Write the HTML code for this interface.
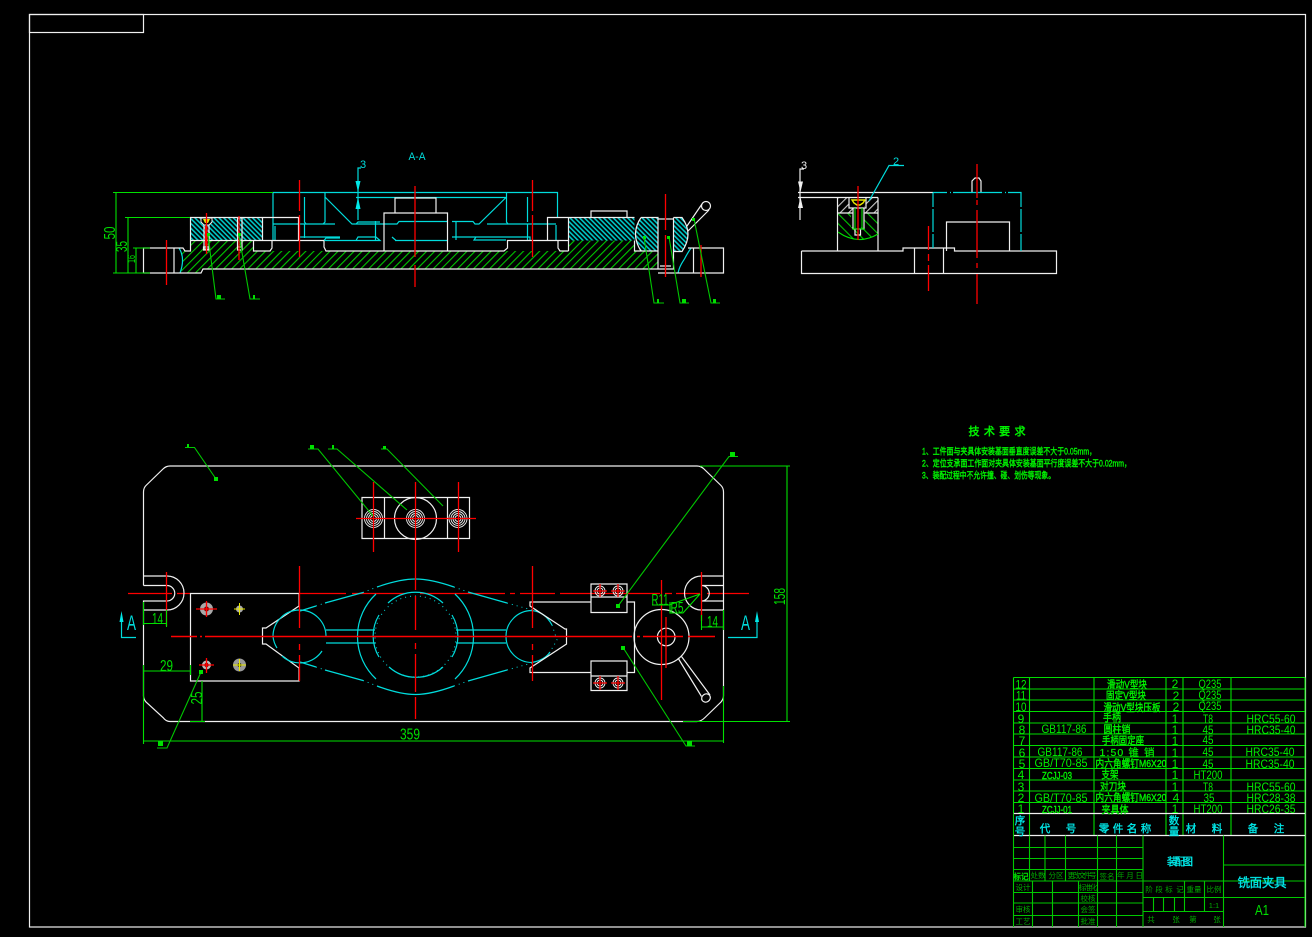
<!DOCTYPE html>
<html><head><meta charset="utf-8"><style>
html,body{margin:0;padding:0;background:#000;width:1312px;height:937px;overflow:hidden}
svg{display:block}
text{font-family:"Liberation Sans","Noto Sans CJK SC",sans-serif;text-anchor:middle}
.w{fill:none;stroke:#f0f0f0;stroke-width:1.2}
.c{fill:none;stroke:#00dcdc;stroke-width:1.2}
.g{fill:none;stroke:#00e000;stroke-width:1.1}
.l{fill:none;stroke:#00c800;stroke-width:1.1}
.r{fill:none;stroke:#f00;stroke-width:1.3}
.d{fill:none;stroke:#00dcdc;stroke-width:1;stroke-dasharray:1 4}
.t{fill:#00e000;font-size:16px}
.b{fill:#00f000;font-size:12px}
.n{fill:#00f000;stroke:#00f000;stroke-width:.4;font-size:10.5px}
.h{fill:#00e8e8;stroke:#00e8e8;stroke-width:.35;font-size:10.5px}
.s{fill:#00a800;font-size:7.5px}
</style></head><body>
<svg width="1312" height="937" viewBox="0 0 1312 937" xmlns="http://www.w3.org/2000/svg">
<defs>
<pattern id="hc" width="3.4" height="3.4" patternUnits="userSpaceOnUse" patternTransform="rotate(-45)"><rect width="3.4" height="3.4" fill="#000"/><rect width="1.6" height="3.4" fill="#00c8c8"/></pattern>
<pattern id="hg" width="5.7" height="6" patternUnits="userSpaceOnUse" patternTransform="rotate(45)"><rect width="1.1" height="6" fill="#00c800"/></pattern>
<pattern id="hg2" width="7" height="7" patternUnits="userSpaceOnUse" patternTransform="rotate(-45)"><rect width="1.1" height="7" fill="#00c800"/></pattern>
<pattern id="hw" width="6" height="6" patternUnits="userSpaceOnUse" patternTransform="rotate(45)"><rect width="1.1" height="6" fill="#c8c8c8"/></pattern>
</defs>
<rect width="1312" height="937" fill="#000"/>

<!-- frame -->
<rect class="w" x="29.5" y="14.5" width="1276" height="912.5"/>
<rect class="w" x="29.5" y="14.5" width="114" height="18"/>

<!-- TOP SECTION VIEW -->
<path d="M180,251H190.5V240.5H253.5V251H568V240.5H634.5V251H658V269H203L201,273H181L183,262Z" fill="url(#hg)"/>
<rect x="190.5" y="217.5" width="72" height="23" fill="url(#hc)"/>
<rect x="568.5" y="217.5" width="66" height="23" fill="url(#hc)"/>
<path d="M641,217.5H658V251H641Q630,234 641,217.5Z" fill="url(#hc)"/>
<path d="M673.5,217.5H682Q694,234 682,251.5H673.5Z" fill="url(#hc)"/>

<path class="c" d="M273,240V192.5H557.5V217M325,192.5V222L323,224M325,197L352,224H356L358,222H380M304.5,197V222L306,224H335M273,224H335M304.5,224V238M356,197.5H506.5M506.5,192.5V222L508,224M506.5,197L479,224H475L473,221.5H452M527.5,197V222M527.5,224V240M556,225V240M487,224H556M355,224H397L399,221.5H447M375.5,221V240M300,237H340M345,240.5H377L380,240.5L376,237H358L356,240.5H324L326,238H340M395,240.5H447M392,237L396,240.5M452,237H476L474,240H506M456,221V240M473,237H530V240M275,226V240"/>
<path class="c" d="M678,273C680,264 683,262 685,258C687,254 689,251 691,248"/>
<path class="c" d="M179,248C183,254 184,262 180,273"/>
<path class="w" d="M143.5,273V248H183L185,251H190.5V217.5H298.5V240.5M190.5,240.5H324M262.5,217.5V240.5M253.5,240.5V251H270L272,248V240.5M272,248L270,251M324,240.5V247L326,251H384V213H447.5V251H504L507.5,248V240.5H568.5M447.5,251H504M558,240.5V248L560,251H568.5M384,251H447.5M547.5,240.5V217.5H568.5V251M395,213V198H436V213M591,217.5V211H627V217.5M568.5,217.5H634.5M143.5,273H201L203,269H658M174,248V273M634.5,240.5V251H658M641,217.5H658V269M641,217.5Q630,234 641,251M673.5,217.5V269H658M658,219H673.5M660,266H671M673.5,217.5H682Q694,234 682,251.5H673.5M687,226L702,204M688,231L709,210M658,273H723.5V248H688M693.5,248V273"/>
<circle class="w" cx="706" cy="206" r="4.5"/>

<!-- screws in section -->
<path d="M201,218H212V222L209,225H204L201,222Z" fill="#000" stroke="#f0f0f0"/>
<path d="M203,219H210L208,223H205Z" fill="#e8e800"/>
<path class="w" d="M204,225V249H209V225M203.5,247H209.5V250H203.5ZM237.5,218.5V250H242V218.5M237,218H242.5M237,247H242.5"/>
<path class="r" d="M206.5,213V254M239,216V260"/>
<path d="M205,226h2.6v20h-2.6z" fill="#f00"/>

<!-- red center lines -->
<path class="r" d="M166.5,240V285M299.5,180V211M299.5,215V257M415,186V257M415,265V287M532.5,180V211M532.5,215V257M665.5,194V230M665.5,235V277M701,245V277"/>

<!-- section arrow -->
<path class="c" d="M358,220V168H361"/>
<path d="M355.5,181H360.5L358,192ZM358,197L360.5,209H355.5Z" fill="#00e8e8"/>
<text x="363" y="168" style="font-size:11px;fill:#00dcdc">3</text>
<text x="417" y="160" style="font-size:11px;fill:#00dcdc" textLength="17" lengthAdjust="spacingAndGlyphs">A-A</text>

<!-- dims top -->
<path class="g" d="M113,192.5H273M116,192.5V273M113,273H150M125,217.5H190M128,217.5V273M133,248H150M136,248V273"/>
<text class="t" transform="translate(115,233) rotate(-90)" textLength="13" lengthAdjust="spacingAndGlyphs">50</text>
<text class="t" transform="translate(127,246.500) rotate(-90)" textLength="11" lengthAdjust="spacingAndGlyphs">35</text>
<text class="t" style="font-size:11px" transform="translate(135,259) rotate(-90)" textLength="8" lengthAdjust="spacingAndGlyphs">16</text>

<!-- leaders top -->
<path class="l" d="M208,235L216,299H225M239,235L250,299H260M644,237L654,303H664M669,237L680,303H689M694,219L711,303H720"/>
<g fill="#00e000"><rect x="207" y="233" width="3" height="3"/><rect x="238" y="233" width="3" height="3"/><rect x="643" y="236" width="3" height="3"/><rect x="667" y="236" width="3" height="3"/><rect x="692" y="218" width="3" height="3"/><rect x="217" y="295" width="4" height="4"/><rect x="253" y="295" width="2" height="4"/><rect x="657" y="299" width="2" height="4"/><rect x="682" y="299" width="4" height="4"/><rect x="713" y="299" width="3" height="4"/></g>

<!-- RIGHT VIEW -->
<path d="M838,213H851V227H864V213H878V234Q858,246 838,232Z" fill="url(#hg2)"/>
<path d="M838,197.5H849V206H853V213H838ZM866,197.5H878V213H864V206H866Z" fill="url(#hw)"/>
<path class="w" d="M798,192.5H933M798,197.5H878M837.5,197.5V251M878,197.5V251M838,213H853M864,213H878M849,197.5V208H866V197.5M853,208V229M864,208V229M853,229H864M855,229V235H860.5V229M801.5,251V273.5H1056.5V251H954.5V248H903V251H801.5M914.5,248V273.5M943.5,248V273.5M946.5,251V222H1009.5V251M972,192.5V181L975,178H979L981,181V192.5"/>
<path d="M838,232Q858,246 878,234" class="l" style="stroke:#00e000"/>
<path d="M852,200H865L863,203L860,205H857L854,203Z" fill="none" stroke="#e8e800" stroke-width="1.4"/>
<path class="l" style="stroke:#00e000" d="M855,208V229M862,208V229M852,229H865"/>
<path class="c" d="M933,192.5H947M950,192.5H951M953,192.5H1002M1005,192.5H1006M1008,192.5H1021V207M1021,209V232M1021,234V251M933,192.5V207M933,209V232M933,234V248"/>
<path class="r" d="M858,186V240M928.5,226V250M928.5,254V261M928.5,265V291M977,164V198M977,200V205M977,210V258M977,263V268M977,274V304"/>
<path class="c" d="M869,201L889,165.5H904"/>
<text x="896" y="165" style="font-size:11px;fill:#00dcdc">2</text>
<path class="w" d="M800,220V169H804"/>
<path d="M798,181.5H803L800.5,192ZM800.500,197L803,208H798Z" fill="#f0f0f0"/>
<text x="804" y="169" style="font-size:11px;fill:#f0f0f0">3</text>

<!-- TECH REQUIREMENTS -->
<text x="997" y="435" style="fill:#00f000;stroke:#00f000;stroke-width:.5;font-size:11px" textLength="57" lengthAdjust="spacing">技 术 要 求</text>
<text x="1009" y="454.500" class="n" style="font-size:9px;stroke-width:.4" textLength="174" lengthAdjust="spacingAndGlyphs">1、工件面与夹具体安装基面垂直度误差不大于0.05mm，</text>
<text x="1026.500" y="466.500" class="n" style="font-size:9px;stroke-width:.4" textLength="209" lengthAdjust="spacingAndGlyphs">2、定位支承面工作面对夹具体安装基面平行度误差不大于0.02mm，</text>
<text x="988.500" y="478.500" class="n" style="font-size:9px;stroke-width:.4" textLength="133" lengthAdjust="spacingAndGlyphs">3、装配过程中不允许撞、碰、划伤等现象。</text>

<!-- red center lines plan (drawn under white outlines) -->
<path class="r" d="M128,593.500H172M177,593.500H190M299,593.500H346M352,593.500H405M420,593.500H505M510,593.500H515M520,593.500H555M560,593.500H660M665,593.500H672M676,593.500H700M707,593.500H749"/>

<!-- PLAN VIEW -->
<path class="w" d="M143.5,585.500V492Q143.500,488 146,485.500L163,469Q166,466 170,466H697Q701,466 704,469L721,485.500Q723.500,488 723.500,492V585.500H701.500M723.500,601V576M723.500,576H701.500A17,17 0 0 0 701.500,610H723.500M723.500,601H701.500A7.700,7.700 0 0 0 701.500,585.500M723.500,601V696Q723.500,699 721,702L705,717.500Q701,721.500 697,721.500H170Q166,721.500 163,717.500L146,702Q143.500,699 143.500,696V601H167A7.700,7.700 0 0 0 167,585.500H143.500M143.500,576H167A17,17 0 0 1 167,610H143.500"/>
<path class="w" d="M190.500,593.500H299V606L266,628H262.500V644H266L299,668V681H190.500ZM362,497.500H469.500V538.500H362ZM384.500,497.500V538.500M447.500,497.500V538.500"/>
<circle class="w" cx="415.500" cy="518.500" r="21"/>
<g class="w" style="stroke-width:.9"><circle cx="373.500" cy="518.500" r="9"/><circle cx="373.500" cy="518.500" r="7"/><circle cx="373.500" cy="518.500" r="5"/><circle cx="373.500" cy="518.500" r="3"/><circle cx="415.500" cy="518.500" r="9"/><circle cx="415.500" cy="518.500" r="7"/><circle cx="415.500" cy="518.500" r="5"/><circle cx="415.500" cy="518.500" r="3"/><circle cx="458" cy="518.500" r="9"/><circle cx="458" cy="518.500" r="7"/><circle cx="458" cy="518.500" r="5"/><circle cx="458" cy="518.500" r="3"/></g>
<!-- left block holes -->
<circle cx="206.500" cy="609" r="6.500" fill="#a8a8a8"/><circle cx="206.500" cy="609" r="2.500" fill="#700"/>
<circle cx="239.500" cy="609" r="3.500" fill="#aaa"/>
<circle cx="206.500" cy="665" r="4.500" fill="#bbb"/><circle cx="206.500" cy="665" r="2.200" fill="#800"/>
<circle cx="239.500" cy="665" r="6.500" fill="#999"/><circle cx="239.500" cy="665" r="2" fill="#440"/>
<path d="M239.500,603V615M234,609H245M233,665H246M239.500,659V671" stroke="#e8e800" fill="none"/>

<!-- part outline cyan -->
<path class="c" d="M388,603A40.500,40.500 0 0 1 443,603M389,667A40.500,40.500 0 0 0 443,667M379,615A40.500,40.500 0 0 0 379,657M452,615A40.500,40.500 0 0 1 452,657"/>
<circle class="d" cx="415.500" cy="636.500" r="40.500"/>
<path class="c" d="M376,594A58,58 0 0 0 376,679M455,594A58,58 0 0 1 455,679"/>
<path class="c" d="M326,630H375M326,643H375M456,630H506M456,643H506"/>
<path class="c" d="M273,636.500A26.500,26.500 0 0 1 326,636.500M322,651A26.500,26.500 0 0 1 282,656M273,636.500A26.500,26.500 0 0 0 277,648"/>
<path class="c" d="M506,636.500A26,26 0 0 1 532,610.500M506,636.500A26,26 0 0 0 532,662.500M532,610.500Q545,612 552,625M532,662.500Q545,660 550,652"/>
<path class="c" d="M300,611L316,606M325,603L363,592.500M377,587Q400,579 415.500,579Q431,579 454,587M468,592L507,603M300,662L316,667M325,670L363,680.500M377,686Q400,694.500 415.500,694.500Q431,694.500 454,686M468,681L507,670"/>
<path class="d" d="M316,606L325,603M363,592.500L377,587M454,587L468,592M507,603L532,610M316,667L325,670M363,680.500L377,686M454,686L468,681M507,670L532,663M552,625L557,640L550,652"/>

<!-- right fork -->
<path class="w" d="M591,602H530V606L565,629H566.500V644L530,668V672.500H591M627,602H634.500V672.500H627M591,584H627V612.500H591ZM591,597H627M591,661H627V690.500H591ZM591,676H627"/>
<g class="w" style="stroke-width:.9"><circle cx="600" cy="591" r="5"/><circle cx="600" cy="591" r="3"/><circle cx="618" cy="591" r="5"/><circle cx="618" cy="591" r="3"/><circle cx="600" cy="683" r="5"/><circle cx="600" cy="683" r="3"/><circle cx="618" cy="683" r="5"/><circle cx="618" cy="683" r="3"/></g>
<circle class="w" cx="661.500" cy="637" r="27.500"/>
<circle class="w" cx="666.200" cy="637" r="8.800"/>
<path class="w" d="M678,658L701.500,696.500M681.500,656.500L710,695"/>
<ellipse class="w" cx="706" cy="698" rx="4.500" ry="4" transform="rotate(-35 706 698)"/>

<!-- red center lines plan -->
<path class="r" d="M171,636.500H197M200,636.500H202M205,636.500H632M637,636.500H640M643,636.500H683M688,636.500H715" style="stroke-width:1.5"/>
<path class="r" d="M356,518.500H476" style="stroke-width:1.300"/>
<path class="r" d="M373.500,482V552M415.500,482V590M415.500,596V630M415.500,643V649M415.500,654V692M415.500,697V719M458.500,482V552M166.500,572V626M299.500,566V628M299.500,644V650M299.500,655V681M532.500,566V628M532.500,644V650M532.500,655V681M661.500,580V700M666,617V668M701.500,572V621"/>
<path class="r" d="M196,609H217M206.500,601V617M199,665H214M206.500,658V673M593,591H607M611,591H625M593,683H607M611,683H625M600,584V597M618,584V597M600,676V690M618,676V690"/>

<!-- dims plan -->
<path class="g" d="M143.500,623.500H166.500M166.500,610V627M143.500,602V625M143.500,671H190.500M190.500,665V675M143.500,665V744M202,681V721.500M190,721.500H205M143.500,741H723.500M723.500,686V743M700,466H790M683,721.500H790M787,466V721.500M701.500,627H723.500M701.500,615V630M723.500,610V630M652,605H669L700,594L683,613H670V602"/>
<text class="t" x="157.500" y="624" textLength="11" lengthAdjust="spacingAndGlyphs">14</text>
<text class="t" x="166.500" y="671" textLength="13" lengthAdjust="spacingAndGlyphs">29</text>
<text class="t" transform="translate(202,698) rotate(-90)" textLength="13" lengthAdjust="spacingAndGlyphs">25</text>
<text class="t" x="410" y="739.500" textLength="20" lengthAdjust="spacingAndGlyphs">359</text>
<text class="t" transform="translate(785,596.500) rotate(-90)" textLength="17" lengthAdjust="spacingAndGlyphs">158</text>
<text class="t" x="712.500" y="627" textLength="11" lengthAdjust="spacingAndGlyphs">14</text>
<text class="t" x="660" y="605" textLength="17" lengthAdjust="spacingAndGlyphs">R11</text>
<text class="t" x="677" y="613" textLength="13" lengthAdjust="spacingAndGlyphs">R5</text>

<!-- A labels -->
<path class="c" d="M121.500,622V637.500H136M757,622V637.500H728"/>
<path d="M119.500,622L121.500,611L123.500,622ZM755,622L757,611L759,622Z" fill="#00e8e8"/>
<text x="131.500" y="630" style="font-size:21px;fill:#00dcdc" textLength="9" lengthAdjust="spacingAndGlyphs">A</text>
<text x="745.500" y="630" style="font-size:21px;fill:#00dcdc" textLength="9" lengthAdjust="spacingAndGlyphs">A</text>

<!-- leaders plan -->
<path class="l" d="M216,479L194.500,447.500H185M373,516L318,449H308M407,510L337,449H328M443,506L387,449H381M201,672L167,748H157M618,606L729,456.500H738M623,647.500L686,746H695"/>
<g fill="#00e000"><rect x="214" y="477" width="4" height="4"/><rect x="199" y="670" width="4" height="4"/><rect x="616" y="604" width="4" height="4"/><rect x="621" y="646" width="4" height="4"/><rect x="158" y="741" width="5" height="5"/><rect x="310" y="445" width="4" height="4"/><rect x="730" y="452" width="5" height="5"/><rect x="687" y="741" width="5" height="5"/><rect x="332" y="445" width="2" height="4"/><rect x="383" y="446" width="3" height="3"/><rect x="187" y="444" width="2" height="3"/></g>

<!-- TABLE lines -->
<path class="g" style="stroke:#00dc00" d="M1013.500,677.500H1305M1013.500,689H1305M1013.500,700H1305M1013.500,711.500H1305M1013.500,723H1305M1013.500,734H1305M1013.500,745.500H1305M1013.500,757H1305M1013.500,768.500H1305M1013.500,780H1305M1013.500,791H1305M1013.500,802.500H1305M1013.500,677.500V813M1029.500,677.500V835M1094,677.500V835M1166,677.500V835M1183,677.500V835M1231,677.500V835M1305,677.500V927"/>
<path class="w" d="M1013.500,813.500H1305M1013.500,835.500H1305"/>
<path class="g" style="stroke:#00c800" d="M1013.500,813.500V927M1029.500,835.500V881M1045,835.500V881M1065.500,835.500V881M1097.500,835.500V927M1116.500,835.500V927M1013.500,847.500H1143M1013.500,858.500H1143M1013.500,869.500H1143M1013.500,881H1305M1013.500,892.500H1143M1013.500,903H1143M1013.500,915.500H1143M1032.500,881V927M1052.500,881V927M1078.500,881V927M1143,835.500V927M1223.500,835.500V927M1223.500,865H1305M1143,897.500H1305M1143,911.500H1223.500M1184.500,881V911.500M1204.500,881V911.500M1153.500,897.500V911.500M1163.500,897.500V911.500M1174.500,897.500V911.500"/>

<!-- BOM text -->
<g class="b">
<text x="1021" y="688.500" textLength="11" lengthAdjust="spacingAndGlyphs">12</text><text x="1021" y="699.500" textLength="10" lengthAdjust="spacingAndGlyphs">11</text><text x="1021" y="711" textLength="11" lengthAdjust="spacingAndGlyphs">10</text><text x="1021" y="723">9</text><text x="1022" y="734">8</text><text x="1022" y="745">7</text><text x="1022" y="757">6</text><text x="1022" y="768">5</text><text x="1021" y="779">4</text><text x="1021" y="791">3</text><text x="1021" y="802">2</text><text x="1021" y="813">1</text>
<text x="1064" y="733" textLength="45" lengthAdjust="spacingAndGlyphs">GB117-86</text>
<text x="1060" y="756" textLength="45" lengthAdjust="spacingAndGlyphs">GB117-86</text>
<text x="1061" y="767" textLength="53" lengthAdjust="spacingAndGlyphs">GB/T70-85</text>
<text x="1061" y="802" textLength="53" lengthAdjust="spacingAndGlyphs">GB/T70-85</text>
<text x="1175" y="688">2</text><text x="1176" y="700">2</text><text x="1176" y="711">2</text><text x="1175" y="723">1</text><text x="1175" y="734">1</text><text x="1175" y="745">1</text><text x="1175" y="757">1</text><text x="1175" y="768">1</text><text x="1175" y="779">1</text><text x="1175" y="791">1</text><text x="1176" y="802">4</text><text x="1175" y="813">1</text>
<text x="1210" y="688" textLength="23" lengthAdjust="spacingAndGlyphs">Q235</text><text x="1210" y="699" textLength="23" lengthAdjust="spacingAndGlyphs">Q235</text><text x="1210" y="710" textLength="23" lengthAdjust="spacingAndGlyphs">Q235</text>
<text x="1208" y="723" textLength="10" lengthAdjust="spacingAndGlyphs">T8</text><text x="1208" y="734" textLength="11" lengthAdjust="spacingAndGlyphs">45</text><text x="1208" y="744" textLength="11" lengthAdjust="spacingAndGlyphs">45</text><text x="1208" y="756" textLength="11" lengthAdjust="spacingAndGlyphs">45</text><text x="1208" y="768" textLength="11" lengthAdjust="spacingAndGlyphs">45</text>
<text x="1208" y="779" textLength="29" lengthAdjust="spacingAndGlyphs">HT200</text><text x="1208" y="791" textLength="10" lengthAdjust="spacingAndGlyphs">T8</text><text x="1209" y="802" textLength="11" lengthAdjust="spacingAndGlyphs">35</text><text x="1208" y="813" textLength="29" lengthAdjust="spacingAndGlyphs">HT200</text>
<text x="1271" y="723" textLength="49" lengthAdjust="spacingAndGlyphs">HRC55-60</text><text x="1271" y="734" textLength="49" lengthAdjust="spacingAndGlyphs">HRC35-40</text><text x="1270" y="756" textLength="49" lengthAdjust="spacingAndGlyphs">HRC35-40</text><text x="1270" y="768" textLength="49" lengthAdjust="spacingAndGlyphs">HRC35-40</text><text x="1271" y="791" textLength="49" lengthAdjust="spacingAndGlyphs">HRC55-60</text><text x="1271" y="802" textLength="49" lengthAdjust="spacingAndGlyphs">HRC28-38</text><text x="1271" y="813" textLength="49" lengthAdjust="spacingAndGlyphs">HRC26-35</text>
</g>
<g class="n">
<text x="1057" y="779" textLength="30" lengthAdjust="spacingAndGlyphs">ZCJJ-03</text>
<text x="1057" y="813" textLength="30" lengthAdjust="spacingAndGlyphs">ZCJJ-01</text>
<text x="1127" y="688" textLength="40" lengthAdjust="spacingAndGlyphs">滑动V型块</text>
<text x="1126" y="699" textLength="40" lengthAdjust="spacingAndGlyphs">固定V型块</text>
<text x="1132" y="711" textLength="57" lengthAdjust="spacingAndGlyphs">滑动V型块压板</text>
<text x="1112" y="721" textLength="18" lengthAdjust="spacingAndGlyphs">手柄</text>
<text x="1117" y="733" textLength="27" lengthAdjust="spacingAndGlyphs">圆柱销</text>
<text x="1123" y="744" textLength="42" lengthAdjust="spacingAndGlyphs">手柄固定座</text>
<text x="1127" y="756" style="stroke-width:.2" textLength="55" lengthAdjust="spacing">1:50  锥 销</text>
<text x="1131" y="767" textLength="71" lengthAdjust="spacingAndGlyphs">内六角螺钉M6X20</text>
<text x="1110" y="778" textLength="17" lengthAdjust="spacingAndGlyphs">支架</text>
<text x="1113" y="790" textLength="26" lengthAdjust="spacingAndGlyphs">对刀块</text>
<text x="1131" y="801" textLength="71" lengthAdjust="spacingAndGlyphs">内六角螺钉M6X20</text>
<text x="1115" y="813" textLength="27" lengthAdjust="spacingAndGlyphs">夹具体</text>
</g>
<!-- header -->
<g class="h">
<text x="1020" y="824">序</text><text x="1020" y="835">号</text>
<text x="1045" y="832">代</text><text x="1071" y="832">号</text>
<text x="1104" y="832">零</text><text x="1118" y="832">件</text><text x="1132" y="832">名</text><text x="1146" y="832">称</text>
<text x="1174" y="824">数</text><text x="1174" y="835">量</text>
<text x="1191" y="832">材</text><text x="1217" y="832">料</text>
<text x="1253" y="832">备</text><text x="1279" y="832">注</text>
<text x="1180" y="865" textLength="26" lengthAdjust="spacing">装配图</text>
<text x="1262" y="887" style="font-size:12.5px" textLength="49" lengthAdjust="spacing">铣面夹具</text>
</g>
<text x="1262" y="915" style="fill:#00e000;font-size:15px" textLength="14" lengthAdjust="spacingAndGlyphs">A1</text>
<!-- title block small text -->
<g class="s">
<text x="1021" y="879" style="fill:#00e000;stroke:#00e000;stroke-width:.4">标记</text><text x="1038" y="878">处数</text><text x="1056" y="878">分区</text><text x="1082" y="878" textLength="29">更改文件号</text><text x="1107" y="879">签名</text><text x="1130" y="878" textLength="26" lengthAdjust="spacing">年 月 日</text>
<text x="1023" y="890">设计</text><text x="1088" y="890" textLength="19">标准化</text><text x="1088" y="901">校核</text><text x="1023" y="912">审核</text><text x="1088" y="912">会签</text><text x="1023" y="924">工艺</text><text x="1088" y="924">批准</text>
<text x="1149" y="892">阶</text><text x="1159" y="892">段</text><text x="1169" y="892">标</text><text x="1180" y="892">记</text>
<text x="1194" y="892">重量</text><text x="1214" y="892">比例</text><text x="1214" y="908">1:1</text>
<text x="1151" y="922">共</text><text x="1176" y="922">张</text><text x="1193" y="922">第</text><text x="1217" y="922">张</text>
</g>
</svg>
</body></html>
